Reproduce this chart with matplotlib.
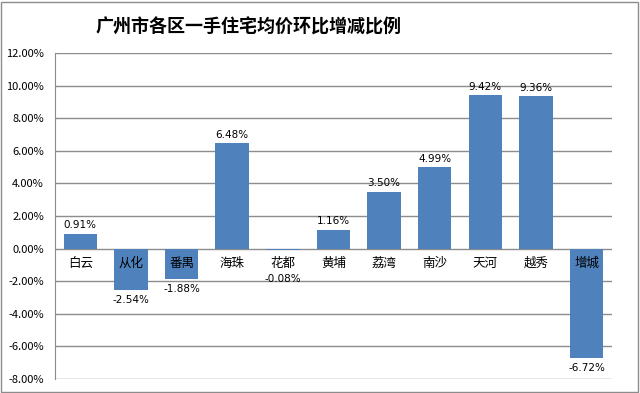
import matplotlib.pyplot as plt
from matplotlib.patches import Rectangle
from matplotlib.ticker import FuncFormatter

plt.rcParams['font.family'] = ['Noto Sans CJK SC', 'DejaVu Sans']

districts = ['白云', '从化', '番禺', '海珠', '花都', '黄埔', '荔湾', '南沙', '天河', '越秀', '增城']
change = [0.91, -2.54, -1.88, 6.48, -0.08, 1.16, 3.50, 4.99, 9.42, 9.36, -6.72]

fig = plt.figure(figsize=(6.4, 3.93), dpi=100)
ax = fig.add_axes([0.086, 0.036, 0.870, 0.829])

x = list(range(len(districts)))
ax.bar(x, change, width=0.66, color='#4F81BD', zorder=3)

ax.set_ylim(-8, 12)
ax.set_xlim(-0.5, len(districts) - 0.5)
ax.set_yticks(range(-8, 13, 2))
ax.yaxis.set_major_formatter(FuncFormatter(lambda v, p: '%.2f%%' % v))
ax.tick_params(axis='y', length=0, labelsize=8, pad=8)
ax.set_xticks([])
ax.grid(axis='y', color='#8c8c8c', linewidth=1, zorder=0)
for s in ['top', 'right', 'bottom']:
    ax.spines[s].set_visible(False)
ax.spines['left'].set_color('#8c8c8c')

for i, (name, v) in enumerate(zip(districts, change)):
    ax.text(i, -0.5, name, ha='center', va='top', fontsize=9, zorder=4)
    label = '%.2f%%' % v
    if v >= 0:
        ax.text(i, v + 0.2, label, ha='center', va='bottom', fontsize=7.5,
                family='DejaVu Sans', zorder=4)
    elif v > -1:
        ax.text(i, -1.55, label, ha='center', va='top', fontsize=7.5,
                family='DejaVu Sans', zorder=4)
    else:
        ax.text(i, v - 0.3, label, ha='center', va='top', fontsize=7.5,
                family='DejaVu Sans', zorder=4)

fig.text(0.388, 0.93, '广州市各区一手住宅均价环比增减比例', ha='center', va='center',
         fontsize=13, fontweight='semibold')
fig.patches.append(Rectangle((0.002, 0.003), 0.995, 0.993, transform=fig.transFigure,
                             fill=False, edgecolor='#8c8c8c', linewidth=1))

fig.savefig('out.png', dpi=100)
